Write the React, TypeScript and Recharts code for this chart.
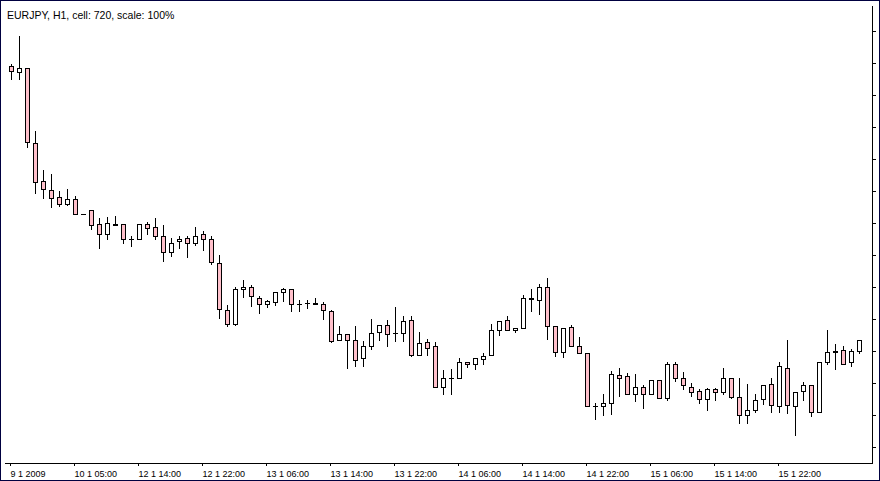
import React from "react";
import { ComposedChart, Bar, XAxis, YAxis } from "recharts";

// EURJPY H1, 9-15 Jan 2009
const opens = [
  122.45, 122.35, 122.41, 121.24, 120.65, 120.51, 120.4, 120.29, 120.37, 120.13,
  120.2, 119.98, 119.82, 119.96, 119.98, 119.75, 119.75, 119.98, 119.93, 119.8,
  119.55, 119.71, 119.76, 119.68, 119.82, 119.74, 119.37, 118.63, 118.41, 118.96,
  118.99, 118.83, 118.73, 118.76, 118.91, 118.96, 118.73, 118.74, 118.74, 118.73,
  118.62, 118.16, 118.26, 118.16, 117.88, 118.07, 118.29, 118.4, 118.27, 118.27,
  118.48, 117.94, 118.13, 118.07, 117.44, 117.58, 117.58, 117.83, 117.79, 117.87,
  117.93, 118.33, 118.48, 118.32, 118.35, 118.81, 118.79, 118.99, 118.38, 117.98,
  118.37, 118.07, 117.96, 117.13, 117.13, 117.19, 117.62, 117.6, 117.33, 117.43,
  117.33, 117.54, 117.26, 117.8, 117.57, 117.44, 117.37, 117.24, 117.4, 117.35,
  117.58, 117.27, 116.99, 117.08, 117.24, 117.48, 117.13, 117.73, 117.13, 117.37,
  117.46, 117.05, 117.83, 117.98, 118.01, 117.82, 117.99,
];
const highs = [
  122.48, 122.92, 122.41, 121.43, 120.82, 120.76, 120.5, 120.53, 120.41, 120.13,
  120.2, 120.07, 120.09, 120.1, 119.98, 119.8, 119.98, 120.01, 120.07, 119.96,
  119.76, 119.79, 119.79, 119.93, 119.87, 119.8, 119.49, 118.71, 118.99, 119.11,
  119.02, 118.85, 118.79, 118.92, 118.98, 118.96, 118.79, 118.8, 118.82, 118.76,
  118.63, 118.38, 118.26, 118.38, 118.15, 118.49, 118.4, 118.48, 118.69, 118.55,
  118.54, 118.3, 118.18, 118.13, 117.7, 117.71, 117.88, 117.83, 117.88, 117.96,
  118.41, 118.46, 118.54, 118.35, 118.87, 118.96, 119.05, 119.13, 118.38, 118.35,
  118.4, 118.21, 117.96, 117.19, 117.33, 117.68, 117.73, 117.65, 117.63, 117.46,
  117.54, 117.55, 117.82, 117.83, 117.66, 117.49, 117.4, 117.41, 117.41, 117.73,
  117.58, 117.58, 117.48, 117.33, 117.46, 117.57, 117.83, 118.16, 117.35, 117.51,
  117.46, 117.82, 118.33, 118.1, 118.08, 118.02, 118.16,
];
const lows = [
  122.24, 122.25, 121.19, 120.46, 120.38, 120.25, 120.26, 120.27, 120.13, 120.13,
  119.9, 119.61, 119.75, 119.96, 119.69, 119.64, 119.74, 119.82, 119.74, 119.4,
  119.48, 119.6, 119.46, 119.65, 119.57, 119.35, 118.51, 118.38, 118.4, 118.84,
  118.7, 118.59, 118.68, 118.71, 118.77, 118.62, 118.62, 118.66, 118.73, 118.49,
  118.13, 118.16, 117.73, 117.76, 117.76, 118.03, 118.16, 118.07, 118.15, 118.15,
  117.91, 117.93, 117.93, 117.44, 117.33, 117.32, 117.58, 117.74, 117.71, 117.8,
  117.93, 118.24, 118.32, 118.3, 118.35, 118.62, 118.57, 118.19, 117.91, 117.9,
  118.07, 117.96, 117.13, 116.93, 116.99, 117.01, 117.29, 117.32, 117.21, 117.1,
  117.33, 117.26, 117.23, 117.52, 117.4, 117.29, 117.19, 117.07, 117.23, 117.32,
  117.26, 116.87, 116.87, 117.04, 117.16, 117.05, 117.04, 117.02, 116.69, 117.23,
  116.98, 117.04, 117.79, 117.71, 117.8, 117.76, 117.96,
];
const closes = [
  122.37, 122.41, 121.26, 120.64, 120.52, 120.38, 120.29, 120.37, 120.13, 120.13,
  119.96, 119.82, 119.99, 119.98, 119.74, 119.75, 119.98, 119.91, 119.8, 119.55,
  119.69, 119.74, 119.69, 119.8, 119.74, 119.38, 118.65, 118.41, 118.96, 118.99,
  118.85, 118.73, 118.77, 118.92, 118.96, 118.73, 118.73, 118.74, 118.73, 118.63,
  118.15, 118.26, 118.16, 117.85, 118.07, 118.27, 118.4, 118.26, 118.27, 118.46,
  117.93, 118.12, 118.05, 117.44, 117.58, 117.58, 117.83, 117.79, 117.88, 117.91,
  118.33, 118.46, 118.32, 118.35, 118.82, 118.82, 118.99, 118.38, 117.98, 118.35,
  118.07, 117.96, 117.13, 117.13, 117.19, 117.63, 117.58, 117.33, 117.43, 117.33,
  117.54, 117.26, 117.8, 117.57, 117.46, 117.35, 117.24, 117.4, 117.35, 117.58,
  117.27, 116.99, 117.07, 117.23, 117.46, 117.15, 117.76, 117.15, 117.35, 117.46,
  117.04, 117.82, 117.98, 117.99, 117.8, 117.99, 118.16,
];

// one time label every 8 bars
const timeLabels = [
  "9 1 2009", "10 1 05:00", "12 1 14:00", "12 1 22:00", "13 1 06:00",
  "13 1 14:00", "13 1 22:00", "14 1 06:00", "14 1 14:00", "14 1 22:00",
  "15 1 06:00", "15 1 14:00", "15 1 22:00",
];
const labelStep = 8;
const priceTicks = [
  116.5, 117, 117.5, 118, 118.5, 119, 119.5, 120, 120.5, 121, 121.5, 122, 122.5, 123,
];

const data = opens.map((o, i) => ({
  i,
  open: o,
  high: highs[i],
  low: lows[i],
  close: closes[i],
}));

const priceDomain: [number, number] = [116.2379, 123.3941];
const BULL = "#ffffff";
const BEAR = "#ffc0cb";
const FONT = '"Liberation Sans", Arial, sans-serif';

function Candle(props: any) {
  const { x, y, width, height, payload } = props;
  const { open, high, low, close } = payload;
  const top = Math.min(y, y + height);
  const h = Math.abs(height);
  const range = high - low;
  const yOf = (v: number) => (range > 0 ? top + ((high - v) / range) * h : top);
  const cx = Math.floor(x + width / 2) + 0.5;
  const yH = Math.round(yOf(high));
  const yL = Math.round(yOf(low));
  const yO = Math.round(yOf(open));
  const yC = Math.round(yOf(close));
  const bTop = Math.min(yO, yC);
  const bBot = Math.max(yO, yC);
  return (
    <g shapeRendering="crispEdges">
      <line x1={cx} x2={cx} y1={yH} y2={yL + 1} stroke="#000" />
      {bBot > bTop ? (
        <rect
          x={cx - 2}
          y={bTop + 0.5}
          width={4}
          height={bBot - bTop}
          fill={close >= open ? BULL : BEAR}
          stroke="#000"
        />
      ) : (
        <line x1={cx - 2.5} x2={cx + 2.5} y1={bTop + 0.5} y2={bTop + 0.5} stroke="#000" />
      )}
    </g>
  );
}

function PriceTick(props: any) {
  const { x, y } = props;
  const ty = Math.round(y) + 0.5;
  return <line x1={x} x2={x + 3.5} y1={ty} y2={ty} stroke="#000" shapeRendering="crispEdges" />;
}

export default function App() {
  return (
    <div style={{ position: "absolute", left: 0, top: 0, width: 880, height: 481, background: "#fff" }}>
      <ComposedChart
        width={880}
        height={481}
        data={data}
        margin={{ top: 5.5, right: 0, bottom: 0, left: 4.5 }}
      >
        <XAxis
          xAxisId="top"
          orientation="top"
          dataKey="i"
          height={0}
          tick={false}
          tickLine={false}
          axisLine={{ stroke: "#000", shapeRendering: "crispEdges" }}
        />
        <XAxis
          dataKey="i"
          height={17.5}
          padding={{ left: 2, right: 10 }}
          ticks={timeLabels.map((_, k) => k * labelStep)}
          interval={0}
          tickFormatter={(v: number) => timeLabels[v / labelStep] ?? ""}
          tickSize={2}
          tickMargin={5}
          axisLine={{ stroke: "#000", shapeRendering: "crispEdges" }}
          tickLine={{ stroke: "#000", shapeRendering: "crispEdges" }}
          tick={{ fill: "#000", fontSize: 9, fontFamily: FONT, textAnchor: "start" }}
        />
        <YAxis
          yAxisId="frame"
          orientation="left"
          width={0}
          domain={priceDomain}
          allowDataOverflow
          tick={false}
          tickLine={false}
          axisLine={{ stroke: "#000", shapeRendering: "crispEdges" }}
        />
        <YAxis
          yAxisId="price"
          orientation="right"
          width={7.5}
          domain={priceDomain}
          allowDataOverflow
          ticks={priceTicks}
          interval={0}
          tick={<PriceTick />}
          tickLine={false}
          tickSize={0}
          tickMargin={0}
          axisLine={{ stroke: "#000", shapeRendering: "crispEdges" }}
        />
        <Bar
          yAxisId="price"
          dataKey={(d: any) => [d.low, d.high]}
          barSize={5}
          shape={<Candle />}
          isAnimationActive={false}
        />
      </ComposedChart>
      <div
        style={{
          position: "absolute",
          left: 7,
          top: 10,
          fontFamily: FONT,
          fontSize: 10.5,
          lineHeight: 1,
          color: "#000",
          whiteSpace: "nowrap",
        }}
      >
        EURJPY, H1, cell: 720, scale: 100%
      </div>
      <div
        style={{
          position: "absolute",
          left: 0,
          top: 0,
          right: 0,
          bottom: 0,
          border: "1px solid #000040",
          pointerEvents: "none",
        }}
      />
    </div>
  );
}
